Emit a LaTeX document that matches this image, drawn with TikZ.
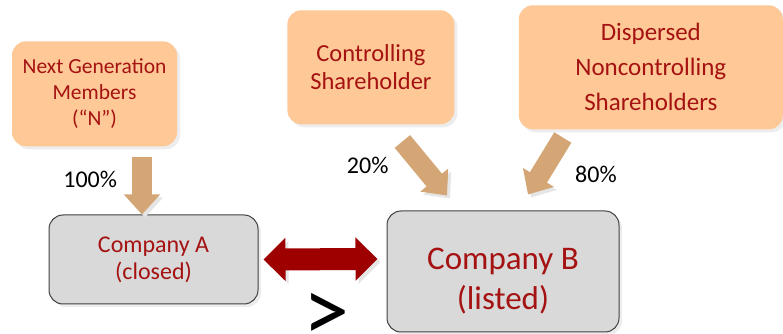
\documentclass[tikz,border=0pt]{standalone}
\usepackage{fontspec}
\setmainfont{Carlito}
\usetikzlibrary{positioning, arrows.meta, shadows}
\definecolor{peach}{RGB}{254,201,150}
\definecolor{stakebrown}{RGB}{212,166,118}
\definecolor{boxgray}{RGB}{217,217,217}
\definecolor{wine}{RGB}{158,0,0}
\definecolor{textred}{RGB}{165,18,18}
\tikzset{
node distance=2cm, % default gap, every node below sets its own
boxshadow/.style={drop shadow={shadow xshift=3pt, shadow yshift=-3pt, fill=black!14}}, % soft shadow under the boxes
owner/.style={fill=peach, rounded corners=14pt, inner sep=0pt, text=textred, align=center, boxshadow}, % the shareholders
firm/.style={draw=black!75, line width=1pt, fill=boxgray, rounded corners=14pt, inner sep=0pt, text=textred, align=center, boxshadow}, % the companies
arrowshadow/.style={preaction={draw=black!10, transform canvas={xshift=3pt, yshift=-3pt}}}, % shadow of the thick arrows
stake/.style={draw=stakebrown, line width=20pt, -{Triangle[width=35pt, length=20pt]}, arrowshadow}, % ownership arrows
link/.style={draw=wine, line width=22pt, {Triangle[width=42pt, length=22pt]}-{Triangle[width=42pt, length=22pt]}, arrowshadow}, % link between the two companies
pct/.style={text=black, inner sep=0pt, outer sep=0pt, font=\fontsize{24}{28}\selectfont}, % the shares
}

\begin{document}
\begin{tikzpicture}
\useasboundingbox (0,0) rectangle (783pt,334pt);
\node[firm, minimum width=209pt, minimum height=89pt, font=\fontsize{24}{27}\selectfont] (compA) at (153.5pt,74.5pt) {Company A\\(closed)};
\node[firm, right=128pt of compA, yshift=-12pt, minimum width=232pt, minimum height=121pt, text height=80pt, font=\fontsize{33}{40}\selectfont] (compB) {Company B\\(listed)};
\node[owner, above=68pt of compA, xshift=-59pt, minimum width=165pt, minimum height=105pt, font=\fontsize{21.5}{26}\selectfont] (nxt) {Next Generation\\Members\\(``N'')};
\node[owner, right=110pt of nxt, yshift=26.5pt, minimum width=167pt, minimum height=114pt, font=\fontsize{24.5}{28}\selectfont] (ctrl) {Controlling\\Shareholder};
\node[owner, right=64pt of ctrl, minimum width=264pt, minimum height=124pt, font=\fontsize{25}{35}\selectfont] (disp) {Dispersed\\Noncontrolling\\Shareholders};
\node[font=\fontsize{92}{96}\selectfont, inner sep=0pt] (gt) at ([xshift=68pt, yshift=-13pt]compA.south east) {>};
\draw
    ([xshift=47.5pt, yshift=-11pt]nxt.south) edge[stake] node[pct, left=25pt, pos=.39] {100\%} ([xshift=-11.5pt]compA.north)
    ([xshift=31.5pt, yshift=-17pt]ctrl.south) edge[stake] node[pct, left=34pt, pos=.45] {20\%} ([xshift=-56pt, yshift=15pt]compB.north)
    ([xshift=-88pt, yshift=-8pt]disp.south) edge[stake] node[pct, right=35pt, pos=.65] {80\%} ([xshift=25pt, yshift=16pt]compB.north)
    ([xshift=5pt]compA.east) edge[link] ([xshift=-9pt, yshift=12.5pt]compB.west)
    ;
\end{tikzpicture}
\end{document}
